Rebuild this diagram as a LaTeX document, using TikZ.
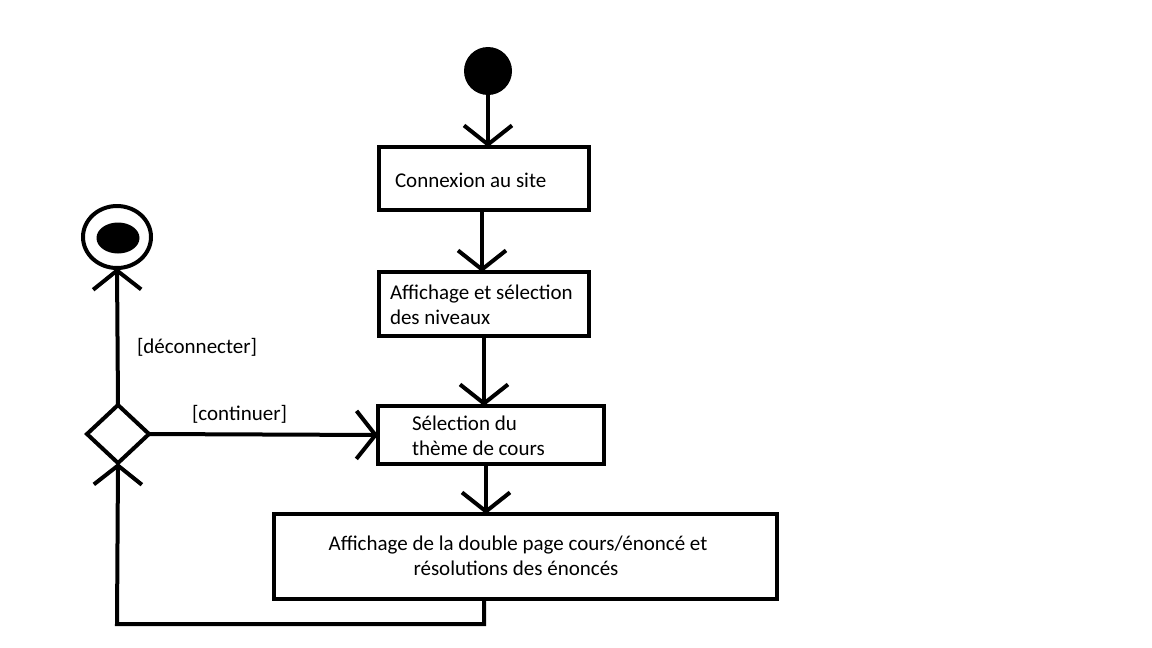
\documentclass[tikz,border=0pt]{standalone}
\usepackage{fontspec}
\setmainfont{Carlito}
\usetikzlibrary{arrows.meta,shapes.geometric}
\begin{document}
\begin{tikzpicture}[x=1pt,y=-1pt,line width=4pt,
  every node/.style={inner sep=0pt,outer sep=0pt},
  actbox/.style={draw,rectangle,line width=4pt},
  txt/.style={anchor=base west,font=\fontsize{21}{25}\selectfont},
  flow/.style={-{Straight Barb[length=19pt,width=48pt]}},
  line join=miter]
  % canvas
  \fill[white] (0,0) rectangle (1152,648);
  \useasboundingbox (0,0) rectangle (1152,648);

  % initial and final states
  \node[circle,fill=black,minimum size=48pt] (init) at (488,71) {};
  \node[ellipse,draw,minimum width=68pt,minimum height=62pt] (final) at (117,237) {};
  \node[ellipse,fill=black,minimum width=43pt,minimum height=31pt] (finaldot) at (118,238) {};

  % activities
  \node[actbox,minimum width=210pt,minimum height=63pt] (b1) at (484,178.5) {};
  \node[actbox,minimum width=210pt,minimum height=64pt] (b2) at (484,304) {};
  \node[actbox,minimum width=226pt,minimum height=58pt] (b3) at (491,435) {};
  \node[actbox,minimum width=503pt,minimum height=85pt] (b4) at (525.5,556.5) {};

  \node[txt] (t1) at (395,187) {Connexion au site};
  \node[txt] (t2a) at (390,299) {Affichage et sélection};
  \node[txt] (t2b) at (390,324) {des niveaux};
  \node[txt] (t3a) at (412,430) {Sélection du};
  \node[txt] (t3b) at (412,455) {thème de cours};
  \node[txt,anchor=base] (t4a) at (518,550) {Affichage de la double page cours/énoncé et};
  \node[txt,anchor=base] (t4b) at (516,575) {résolutions des énoncés};

  % decision
  \node[diamond,draw,minimum width=62pt,minimum height=58pt] (dec) at (118,434) {};

  % guards
  \node[txt] (g1) at (137,353) {[déconnecter]};
  \node[txt] (g2) at (192,420) {[continuer]};

  % coordinates for the loop back
  \coordinate (c1) at (484,624);
  \coordinate (c2) at (117,624);

  % transitions
  \draw[flow] (init.south) -- (init.south |- b1.north);
  \draw[flow] (482,210) -- (482,0 |- b2.north);
  \draw[flow] (484,336) -- (484,0 |- b3.north);
  \draw[flow] (486,464) -- (486,0 |- b4.north);
  \draw[flow] (dec.east) -- (b3.west);
  \draw[flow] (dec.north) -- (final.south);
  \draw[flow] (484,0 |- b4.south) -- (c1) -- (c2) -- (dec.south);
\end{tikzpicture}
\end{document}
